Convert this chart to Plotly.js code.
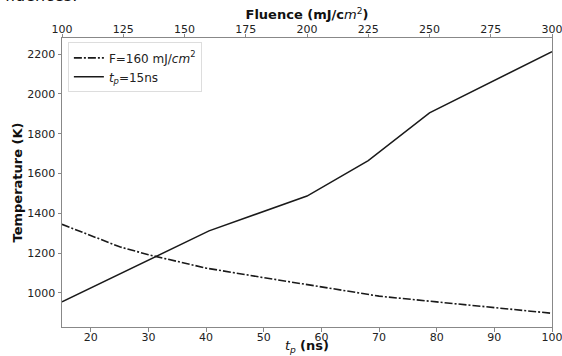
<!DOCTYPE html>
<html>
<head>
<meta charset="utf-8">
<script src="https://cdn.plot.ly/plotly-3.0.1.min.js"></script>
<style>html,body{margin:0;padding:0;background:#fff}#chart{width:562px;height:356px}</style>
</head>
<body>
<div id="chart"></div>
<script>
// Series 1: F = 160 mJ/cm^2, temperature vs pulse duration t_p (bottom axis)
const pulseDurations = [15, 20, 25, 30, 40, 50, 60, 70, 80, 90, 100];
const tempVsPulse = [1345, 1290, 1232, 1192, 1125, 1077, 1030, 984, 955, 927, 898];
// Series 2: t_p = 15 ns, temperature vs fluence (top axis)
const fluences = [100, 125, 160, 200, 225, 250, 300];
const tempVsFluence = [955, 1105, 1312, 1487, 1665, 1905, 2212];
const yTicks = [1000, 1200, 1400, 1600, 1800, 2000, 2200];
const bottomTicks = [20, 30, 40, 50, 60, 70, 80, 90, 100];
const topTicks = [100, 125, 150, 175, 200, 225, 250, 275, 300];

const font = "DejaVu Sans, sans-serif";
const axisCommon = {
  showgrid: false, zeroline: false, showline: true, linecolor: '#888', linewidth: 1,
  ticks: 'outside', ticklen: 3.5, tickcolor: '#888', ticklabeloverflow: 'allow',
  tickfont: {family: font, size: 11, color: '#222'}
};

const traces = [
  {x: pulseDurations, y: tempVsPulse, xaxis: 'x', yaxis: 'y', mode: 'lines',
   name: 'F=160 mJ/<i>cm</i><sup>2</sup>',
   line: {color: '#1a1a1a', width: 1.6, dash: '8px,2px,2px,2px'}},
  {x: fluences, y: tempVsFluence, xaxis: 'x2', yaxis: 'y', mode: 'lines',
   name: '<i>t<sub>p</sub></i>=15ns',
   line: {color: '#1a1a1a', width: 1.5}}
];

const layout = {
  width: 562, height: 356,
  margin: {l: 62, r: 10, t: 38, b: 29},
  paper_bgcolor: '#fff', plot_bgcolor: '#fff',
  font: {family: font, color: '#111'},
  showlegend: true,
  legend: {x: 0.012, y: 0.985, xanchor: 'left', yanchor: 'top', bgcolor: '#fff',
           bordercolor: '#ddd', borderwidth: 1, font: {family: font, size: 12, color: '#222'},
           itemwidth: 30, tracegroupgap: 2},
  xaxis: Object.assign({}, axisCommon, {
    range: [15, 100], tickvals: bottomTicks, mirror: false, ticklabelstandoff: -4
  }),
  xaxis2: Object.assign({}, axisCommon, {
    range: [100, 300], tickvals: topTicks, overlaying: 'x', side: 'top', anchor: 'y', ticklabelstandoff: -4,
    title: {text: '<b>Fluence (mJ/c</b><i>m</i><sup>2</sup><b>)</b>', font: {family: font, size: 13, color: '#111'}, standoff: 0}
  }),
  yaxis: Object.assign({}, axisCommon, {
    range: [829, 2281], tickvals: yTicks, mirror: true,
    title: {text: '<b>Temperature (K)</b>', font: {family: font, size: 13, color: '#111'}, standoff: 1}
  }),
  annotations: [
    {text: '<i>t<sub>p</sub></i> <b>(ns)</b>', xref: 'paper', yref: 'paper', x: 0.5, y: -0.1,
     xanchor: 'center', yanchor: 'bottom', borderpad: 0, showarrow: false,
     font: {family: font, size: 13, color: '#111'}},
    {text: 'fluences.', xref: 'paper', yref: 'paper', x: -0.12, y: 1.107, xanchor: 'left', yanchor: 'bottom',
     showarrow: false, font: {family: font, size: 16, color: '#111'}}
  ]
};

Plotly.newPlot('chart', traces, layout, {displayModeBar: false, staticPlot: true});
</script>
</body>
</html>
